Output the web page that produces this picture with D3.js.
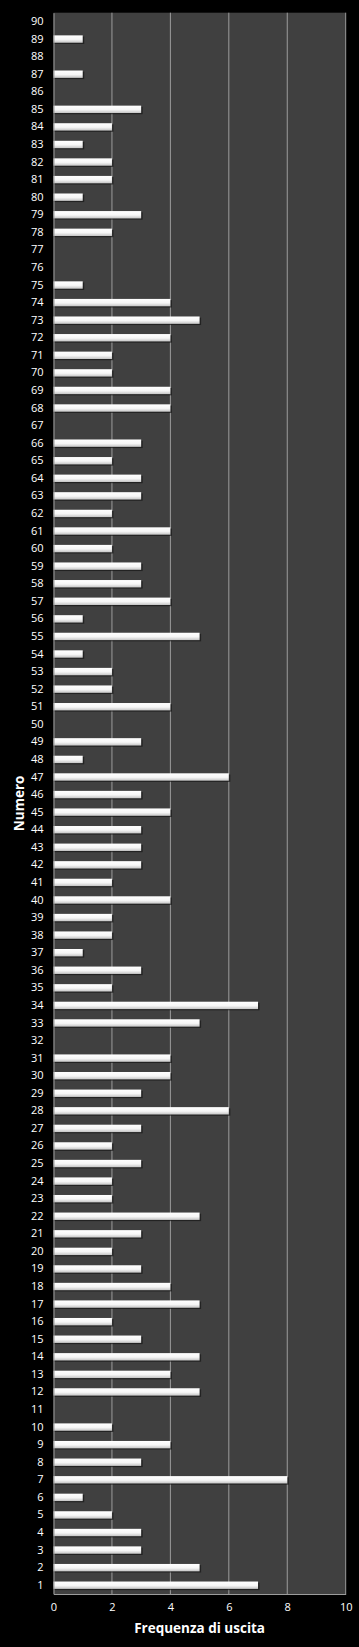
<!DOCTYPE html>
<html lang="it">
<head>
    <meta charset="UTF-8">
    <title>Frequenza di uscita</title>
    <style>
        body {
            background-color: #000;
            margin: 0;
        }

        .tick text {
            fill: #fff;
            font-family: "Open Sans", "Liberation Sans", Arial, sans-serif;
            font-size: 11px;
        }

        .title {
            fill: #fff;
            font-family: "Open Sans", "Liberation Sans", Arial, sans-serif;
            font-size: 13.5px;
            font-weight: bold;
            text-anchor: middle;
        }
    </style>
</head>
<body>
    <svg id="chart"></svg>

    <script src="https://cdnjs.cloudflare.com/ajax/libs/d3/7.8.5/d3.min.js"></script>
    <script>
        // numeri 1..90 e quante volte sono usciti
        const numeri = d3.range(1, 91);
        const frequenze = [
            7, 5, 3, 3, 2, 1, 8, 3, 4, 2,
            0, 5, 4, 5, 3, 2, 5, 4, 3, 2,
            3, 5, 2, 2, 3, 2, 3, 6, 3, 4,
            4, 0, 5, 7, 2, 3, 1, 2, 2, 4,
            2, 3, 3, 3, 4, 3, 6, 1, 3, 0,
            4, 2, 2, 1, 5, 1, 4, 3, 3, 2,
            4, 2, 3, 3, 2, 3, 0, 4, 4, 2,
            2, 4, 5, 4, 1, 0, 0, 2, 3, 1,
            2, 2, 1, 2, 3, 0, 1, 0, 1, 0
        ];
        const xTicks = [0, 2, 4, 6, 8, 10];

        const width = 359, height = 1647;
        const margin = { top: 12.7, right: 13.3, bottom: 53, left: 53.5 };

        const svg = d3.select("#chart")
            .attr("width", width)
            .attr("height", height);

        const x = d3.scaleLinear()
            .domain([0, 10])
            .range([margin.left, width - margin.right]);

        const y = d3.scaleBand()
            .domain(numeri.slice().reverse())
            .range([margin.top, height - margin.bottom])
            .paddingInner(0.58)
            .paddingOuter(0.29);

        const defs = svg.append("defs");
        const grad = defs.append("linearGradient")
            .attr("id", "barGrad")
            .attr("x1", 0).attr("y1", 0).attr("x2", 0).attr("y2", 1);
        grad.append("stop").attr("offset", "0%").attr("stop-color", "#ffffff");
        grad.append("stop").attr("offset", "55%").attr("stop-color", "#f6f6f6");
        grad.append("stop").attr("offset", "100%").attr("stop-color", "#c4c4c4");

        // area del grafico
        svg.append("rect")
            .attr("x", margin.left)
            .attr("y", margin.top)
            .attr("width", x(10) - x(0))
            .attr("height", height - margin.bottom - margin.top)
            .attr("fill", "#404040");

        // griglia verticale
        svg.append("g")
            .selectAll("line")
            .data(xTicks.slice(1))
            .enter()
            .append("line")
            .attr("x1", d => x(d))
            .attr("x2", d => x(d))
            .attr("y1", margin.top)
            .attr("y2", height - margin.bottom)
            .attr("stroke", "#9c9c9c")
            .attr("stroke-width", 1);

        const data = numeri.map((n, i) => ({ numero: n, freq: frequenze[i] }))
            .filter(d => d.freq > 0);

        // ombra
        svg.append("g")
            .selectAll("rect")
            .data(data)
            .enter()
            .append("rect")
            .attr("x", x(0))
            .attr("y", d => y(d.numero) + 1.2)
            .attr("width", d => x(d.freq) - x(0) + 1.5)
            .attr("height", y.bandwidth())
            .attr("fill", "#151515")
            .attr("opacity", 0.7);

        svg.append("g")
            .selectAll("rect")
            .data(data)
            .enter()
            .append("rect")
            .attr("x", x(0))
            .attr("y", d => y(d.numero))
            .attr("width", d => x(d.freq) - x(0))
            .attr("height", y.bandwidth())
            .attr("fill", "url(#barGrad)");

        // assi
        const xAxis = svg.append("g")
            .attr("transform", `translate(0,${height - margin.bottom})`)
            .call(d3.axisBottom(x).tickValues(xTicks).tickSize(0).tickPadding(9));
        xAxis.select(".domain").attr("stroke", "#9c9c9c");

        const yAxis = svg.append("g")
            .attr("transform", `translate(${margin.left},0)`)
            .call(d3.axisLeft(y).tickSize(0).tickPadding(10));
        yAxis.select(".domain").attr("stroke", "#9c9c9c");

        svg.append("text")
            .attr("class", "title")
            .attr("x", (x(0) + x(10)) / 2)
            .attr("y", 1633)
            .text("Frequenza di uscita");

        svg.append("text")
            .attr("class", "title")
            .attr("transform", `translate(24,${(margin.top + height - margin.bottom) / 2}) rotate(-90)`)
            .text("Numero");
    </script>
</body>
</html>
